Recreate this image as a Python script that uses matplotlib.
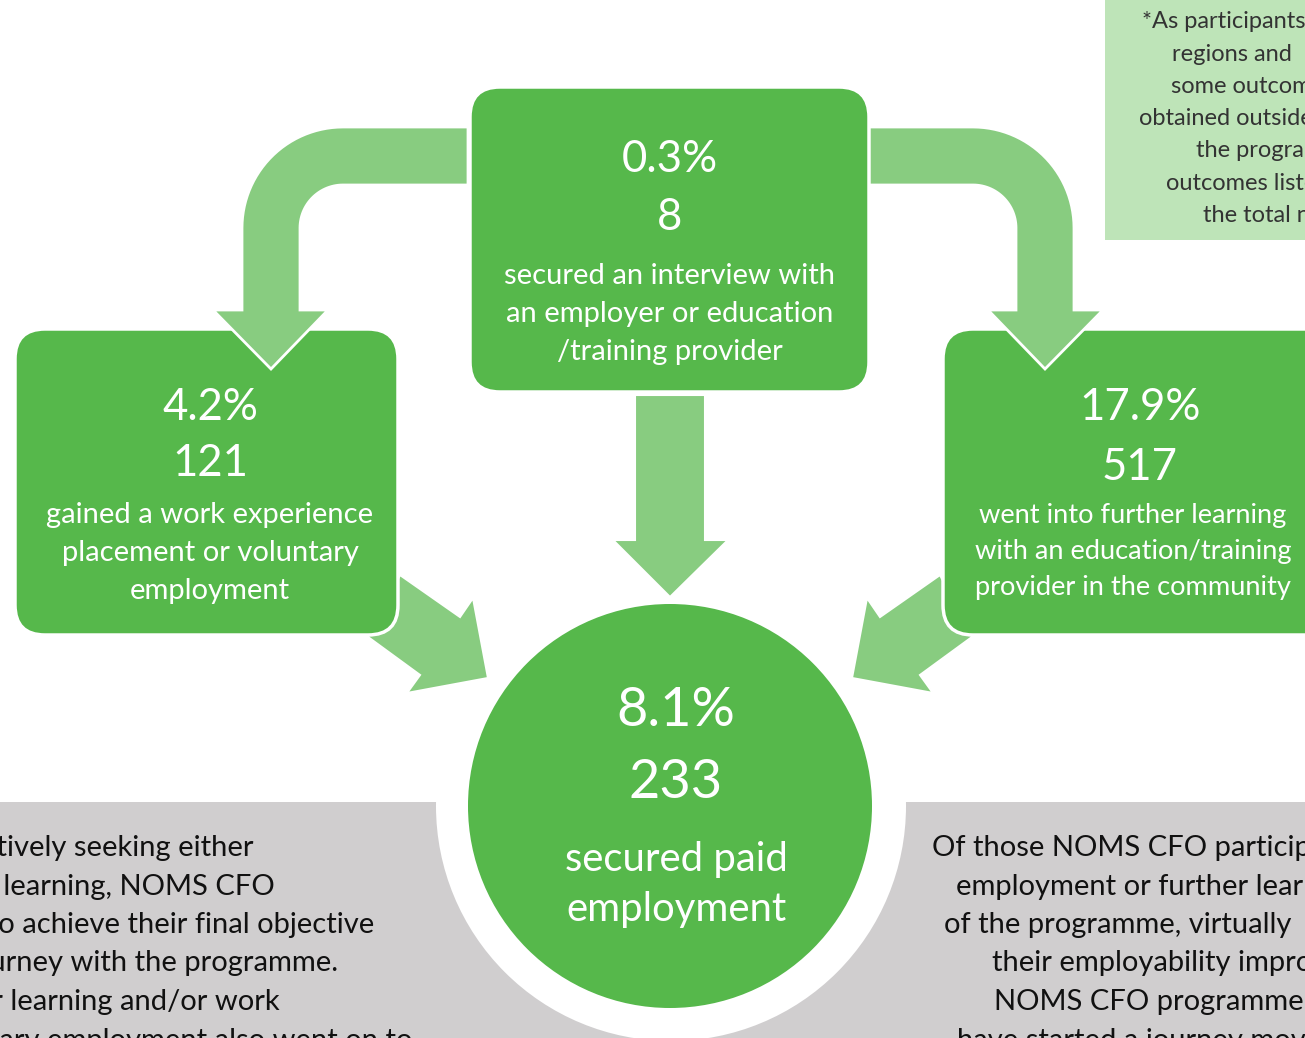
import matplotlib.pyplot as plt
import numpy as np
from matplotlib.patches import FancyBboxPatch, Circle, Polygon, Rectangle

# Outcome figures shown in the infographic
outcome_keys = ['interview', 'work_exp', 'learning', 'paid']
outcome_pct = ['0.3%', '4.2%', '17.9%', '8.1%']
outcome_count = [8, 121, 517, 233]
outcome_text = [
    ['secured an interview with', 'an employer or education', '/training provider'],
    ['gained a work experience', 'placement or voluntary', 'employment'],
    ['went into further learning', 'with an education/training', 'provider in the community'],
    ['secured paid', 'employment'],
]

note_lines = ['*As participants', 'regions and', 'some outcomes', 'obtained outside',
              'the programme', 'outcomes listed', 'the total n']
left_panel_lines = ['actively seeking either', 'further learning, NOMS CFO',
                    'continue to achieve their final objective', 'journey with the programme.',
                    'further learning and/or work', 'voluntary employment also went on to']
right_panel_lines = ['Of those NOMS CFO participants', 'employment or further learning',
                     'of the programme, virtually', 'their employability improved',
                     'NOMS CFO programme.', 'have started a journey moving']

DARK = '#56B84B'
LIGHT = '#88CC80'
NOTE = '#BEE4B8'
GREY = '#D0CECF'
FONT = 'Lato'

W, H = 1305, 1038
fig = plt.figure(figsize=(W / 100, H / 100), dpi=100)
ax = fig.add_axes([0, 0, 1, 1])
ax.set_xlim(0, W)
ax.set_ylim(H, 0)
ax.axis('off')


def rbox(x0, y0, x1, y1, z, r=30):
    p = FancyBboxPatch((x0, y0), x1 - x0, y1 - y0,
                       boxstyle=f'round,pad=0,rounding_size={r}',
                       fc=DARK, ec='white', lw=2.5, zorder=z)
    ax.add_patch(p)


def bent_arrow(mirror=False):
    # curved arrow leaving the top box and pointing down into a side box
    cx, cy = 343, 228
    pts = [(468, 127)]
    for t in np.linspace(90, 180, 30):
        pts.append((cx + 101 * np.cos(np.radians(t)), cy - 101 * np.sin(np.radians(t))))
    pts += [(242, 310), (213, 310), (271, 369), (328, 310), (300, 310)]
    for t in np.linspace(180, 90, 30):
        pts.append((cx + 43 * np.cos(np.radians(t)), cy - 43 * np.sin(np.radians(t))))
    pts.append((468, 185))
    pts = np.array(pts)
    if mirror:
        pts[:, 0] = 1316 - pts[:, 0]
    ax.add_patch(Polygon(pts, closed=True, fc=LIGHT, ec='white', lw=2, zorder=4))


# grey panels along the bottom with white ring around the circle
ax.add_patch(Rectangle((0, 802), W, H - 802, fc=GREY, ec='none', zorder=0))
ax.add_patch(Circle((671, 806), 235, fc='white', ec='none', zorder=1))

# note box top right
ax.add_patch(Rectangle((1105, -5), 300, 245, fc=NOTE, ec='none', zorder=1))

# diagonal arrows into the circle
diag_left = np.array([(400, 575), (460, 617), (473, 598), (488, 678),
                      (407, 693), (420, 675), (368, 637)])
ax.add_patch(Polygon(diag_left, closed=True, fc=LIGHT, ec='white', lw=1.5, zorder=2))
diag_right = diag_left.copy()
diag_right[:, 0] = 1340 - diag_right[:, 0]
ax.add_patch(Polygon(diag_right, closed=True, fc=LIGHT, ec='white', lw=1.5, zorder=2))

# side boxes
rbox(15, 329, 398, 635, 3)
rbox(943, 329, 1340, 635, 3)

bent_arrow()
bent_arrow(mirror=True)

# top box
rbox(470, 87, 869, 392, 5)

# straight arrow down
mid = [(635, 395), (705, 395), (705, 540), (728, 540), (670, 597), (613, 540), (635, 540)]
ax.add_patch(Polygon(mid, closed=True, fc=LIGHT, ec='white', lw=1.5, zorder=5))

# central circle
ax.add_patch(Circle((670, 806), 202, fc=DARK, ec='none', zorder=6))

# text inside the shapes
layout = {
    'interview': dict(x=670, xb=670, y=[159, 217], ys=[276, 314, 352], big=31.5, small=21),
    'work_exp': dict(x=210, xb=210, y=[407, 464], ys=[515, 553, 591], big=31.5, small=21),
    'learning': dict(x=1140, xb=1133, y=[408, 468], ys=[516, 551, 587], big=31.5, small=19.6),
    'paid': dict(x=676, xb=676, y=[711, 783], ys=[859, 909], big=39, small=28.8),
}
for i, key in enumerate(outcome_keys):
    lay = layout[key]
    ax.text(lay['x'], lay['y'][0], outcome_pct[i], color='white', fontsize=lay['big'],
            family=FONT, ha='center', va='center', zorder=10)
    ax.text(lay['x'], lay['y'][1], str(outcome_count[i]), color='white', fontsize=lay['big'],
            family=FONT, ha='center', va='center', zorder=10)
    for y, line in zip(lay['ys'], outcome_text[i]):
        ax.text(lay['xb'], y, line, color='white', fontsize=lay['small'],
                family=FONT, ha='center', va='center', zorder=10)

# note text (left edges)
note_x = [1142, 1172, 1171, 1139, 1196, 1166, 1203]
for i, line in enumerate(note_lines):
    ax.text(note_x[i], 22 + i * 32.2, line, color='#333333', fontsize=17,
            family=FONT, ha='left', va='center', zorder=10)

# grey panel paragraphs
left_right_edge = [253, 275, 374, 338, 280, 412]
for i, line in enumerate(left_panel_lines):
    ax.text(left_right_edge[i], 848 + i * 38.5, line, color='#111111', fontsize=21,
            family=FONT, ha='right', va='center', zorder=10)

right_left_edge = [932, 956, 944, 992, 994, 957]
for i, line in enumerate(right_panel_lines):
    ax.text(right_left_edge[i], 848 + i * 38.5, line, color='#111111', fontsize=21,
            family=FONT, ha='left', va='center', zorder=10)

fig.savefig('out.png', dpi=100)
